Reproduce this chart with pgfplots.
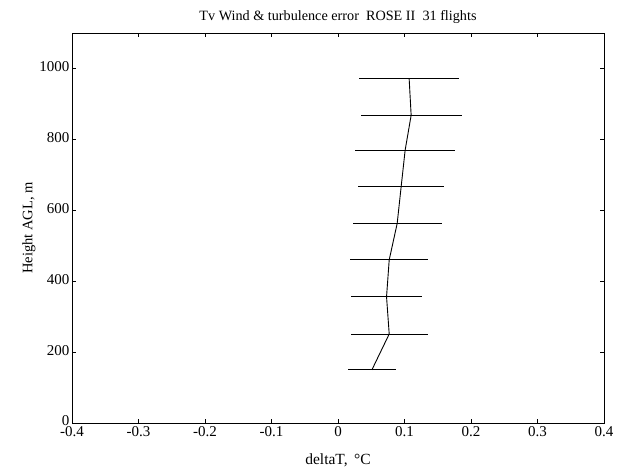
\documentclass[border=0pt]{standalone}
\usepackage{pgfplots}
\pgfplotsset{compat=1.18}
\usepackage{fontspec}
\setmainfont{Liberation Serif}
\begin{document}
\begin{tikzpicture}[x=1pt,y=1pt]
\path[use as bounding box] (0,0) rectangle (618,475);
\begin{axis}[
  at={(72pt,52pt)}, anchor=south west,
  scale only axis, width=532pt, height=390pt,
  xmin=-0.4, xmax=0.4, ymin=0, ymax=1100,
  xtick={-0.4,-0.3,...,0.4},
  ytick={0,200,...,1000},
  xticklabels={-0.4,-0.3,-0.2,-0.1,0,0.1,0.2,0.3,0.4},
  yticklabels={0,200,400,600,800,1000},
  tick align=inside, tick pos=both,
  major tick length=4pt,
  /pgf/number format/assume math mode=true,
  tick label style={font=\fontsize{15}{17}\selectfont},
  xticklabel style={yshift=0pt},
  yticklabel style={xshift=1pt, yshift=2pt},
  title={Tv Wind \& turbulence error\ \ ROSE II\ \ 31 flights},
  title style={font=\fontsize{14.2}{16}\selectfont, yshift=0pt},
  xlabel={deltaT,\, °C},
  xlabel style={font=\fontsize{15.5}{17}\selectfont, yshift=-10pt},
  ylabel={Height AGL, m},
  ylabel style={font=\fontsize{14.5}{16}\selectfont, yshift=-3pt},
  axis line style={line width=0.8pt},
  every tick/.style={black, line width=0.6pt},
]
\addplot[black, line width=0.9pt, mark=none,
  error bars/.cd, x dir=both, x explicit, error mark=none,
  error bar style={line width=0.9pt, black}]
table[x=x, y=y, x error=e] {
x y e
0.051 150 0.036
0.077 251 0.058
0.073 356 0.054
0.077 460 0.059
0.089 563 0.067
0.095 667 0.065
0.101 770 0.075
0.110 868 0.076
0.107 971 0.075
};
\end{axis}
\end{tikzpicture}
\end{document}
